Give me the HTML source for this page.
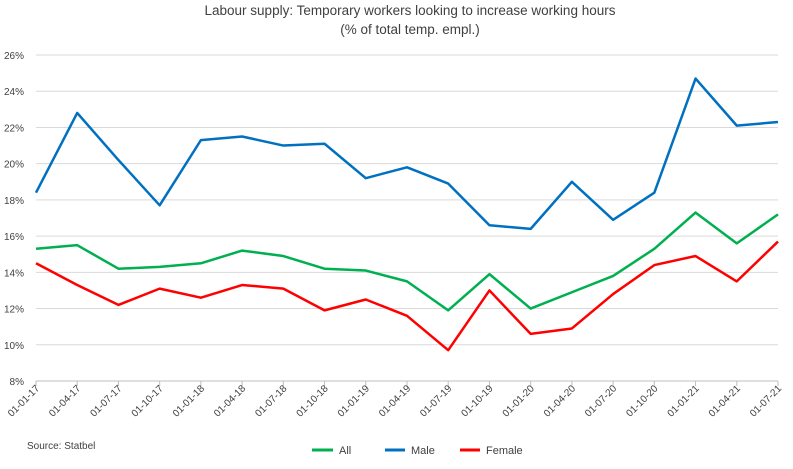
<!DOCTYPE html>
<html><head><meta charset="utf-8"><style>
body{margin:0;background:#fff;font-family:"Liberation Sans",sans-serif}
svg text{font-family:"Liberation Sans",sans-serif;fill:#404040}
</style></head><body>
<svg id="chart" width="793" height="464" viewBox="0 0 793 464">
<text x="410" y="15" text-anchor="middle" font-size="13.5">Labour supply: Temporary workers looking to increase working hours</text>
<text x="410" y="34" text-anchor="middle" font-size="13.5">(% of total temp. empl.)</text>
<g id="grid"></g><g id="yticks"></g><g id="xticks"></g><g id="lines"></g>
<text x="27" y="449" font-size="10">Source: Statbel</text>
<g>
<line x1="312" y1="450" x2="333" y2="450" stroke="#00b050" stroke-width="3"/><text x="339" y="454" font-size="11">All</text>
<line x1="385" y1="450" x2="405" y2="450" stroke="#0070c0" stroke-width="3"/><text x="411" y="454" font-size="11">Male</text>
<line x1="460" y1="450" x2="480" y2="450" stroke="#ff0000" stroke-width="3"/><text x="486" y="454" font-size="11">Female</text>
</g>
</svg>
<script>
const categories=["01-01-17","01-04-17","01-07-17","01-10-17","01-01-18","01-04-18","01-07-18","01-10-18","01-01-19","01-04-19","01-07-19","01-10-19","01-01-20","01-04-20","01-07-20","01-10-20","01-01-21","01-04-21","01-07-21"];
const maleValues=[18.4,22.8,20.2,17.7,21.3,21.5,21.0,21.1,19.2,19.8,18.9,16.6,16.4,19.0,16.9,18.4,24.7,22.1,22.3];
const allValues=[15.3,15.5,14.2,14.3,14.5,15.2,14.9,14.2,14.1,13.5,11.9,13.9,12.0,12.9,13.8,15.3,17.3,15.6,17.2];
const femaleValues=[14.5,13.3,12.2,13.1,12.6,13.3,13.1,11.9,12.5,11.6,9.7,13.0,10.6,10.9,12.8,14.4,14.9,13.5,15.7];
const yTicks=[8,10,12,14,16,18,20,22,24,26];
const NS="http://www.w3.org/2000/svg";
const x0=36,x1=778,yTop=55,yBot=381,yMin=8,yMax=26;
const xs=i=>x0+(x1-x0)*i/(categories.length-1);
const ys=v=>yBot-(v-yMin)/(yMax-yMin)*(yBot-yTop);
function mk(t,a,p){const e=document.createElementNS(NS,t);for(const k in a)e.setAttribute(k,a[k]);p.appendChild(e);return e;}
const grid=document.getElementById('grid'),yt=document.getElementById('yticks'),xt=document.getElementById('xticks'),ln=document.getElementById('lines');
yTicks.forEach(v=>{
 const l=mk('line',{x1:x0,x2:x1,y1:ys(v),y2:ys(v),stroke:v===yMin?'#bfbfbf':'#d9d9d9','stroke-width':1},grid);
 
 
 const t=mk('text',{x:24,y:ys(v)+4,'text-anchor':'end','font-size':10},yt);
 t.textContent=v+'%';
 
 
});
categories.forEach((c,i)=>{
 const x=xs(i);
 mk('line',{x1:x,x2:x,y1:yBot,y2:yBot+5,stroke:'#bfbfbf'},xt);
 const t=mk('text',{x:x+4,y:yBot+8,'text-anchor':'end','font-size':10,transform:`rotate(-45 ${x+4} ${yBot+8})`},xt);
 t.textContent=c;
 
 
});
[[allValues,'#00b050','series-all'],[maleValues,'#0070c0','series-male'],[femaleValues,'#ff0000','series-female']].forEach(([vals,col,name])=>{
 const p=mk('polyline',{points:vals.map((v,i)=>xs(i)+','+ys(v)).join(' '),fill:'none',stroke:col,'stroke-width':2.5,'stroke-linejoin':'round'},ln);
 
 
});
</script>
</body></html>
